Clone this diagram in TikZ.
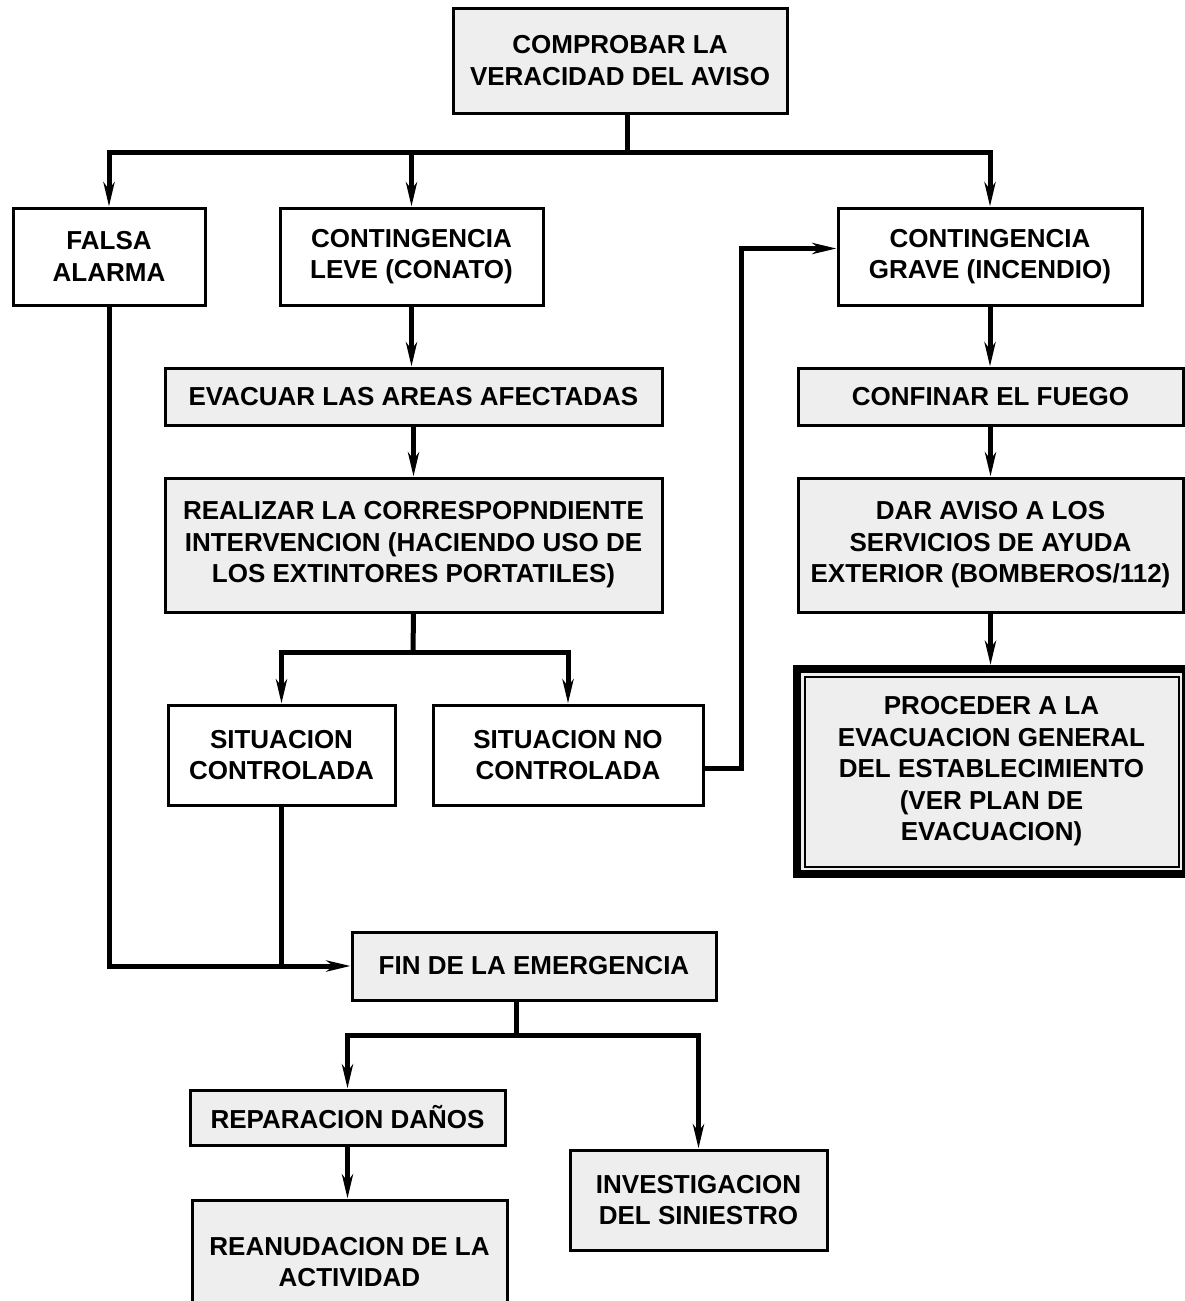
\documentclass[tikz,border=0pt]{standalone}
\usepackage{fontspec}
\setmainfont{Liberation Sans}
\usepackage{xcolor}
\usetikzlibrary{calc,arrows.meta}
\definecolor{boxgrey}{HTML}{EEEEEE}
\newcommand{\boxfont}{\bfseries\fontsize{26}{31.5}\selectfont}
\tikzset{
  whitebox/.style={ % decision box, no fill
    draw, rectangle, line width=3pt, fill=white,
    align=center, inner sep=0pt, text=black, font=\boxfont
  },
  greybox/.style={ % action box
    whitebox, fill=boxgrey
  },
  finalbox/.style={ % last step: heavy frame with a thin inner frame
    greybox, line width=8pt,
    path picture = {
      \draw[black, line width=2pt]
      ([shift={(7.5pt,-7.5pt)}]path picture bounding box.north west) rectangle
      ([shift={(-7.5pt,7.5pt)}]path picture bounding box.south east);
    }
  },
  wire/.style={line width=5pt},
  link/.style={wire, -{Stealth[length=24pt,width=11pt,inset=7pt]}}
}
\begin{document}
\begin{tikzpicture}[x=1pt, y=-1pt]
  \useasboundingbox (0,0) rectangle (1184,1301);

  % top of the tree
  \node[greybox, minimum width=334pt, minimum height=105pt] (aviso) at (620,60.5)
    {COMPROBAR LA\\VERACIDAD DEL AVISO};
  \node[whitebox, minimum width=192pt, minimum height=97pt] (falsa) at (109,256.5)
    {FALSA\\ALARMA};
  \node[whitebox, minimum width=263pt, minimum height=97pt] (leve) at (411.5,256.5)
    {CONTINGENCIA\\LEVE (CONATO)};
  \node[whitebox, minimum width=304pt, minimum height=97pt] (grave) at (990,256.5)
    {CONTINGENCIA\\GRAVE (INCENDIO)};

  % minor contingency
  \node[greybox, minimum width=497pt, minimum height=57pt] (evacuar) at (413.5,396.5)
    {EVACUAR LAS AREAS AFECTADAS};
  \node[greybox, minimum width=497pt, minimum height=134pt] (realizar) at (413.5,545)
    {REALIZAR LA CORRESPOPNDIENTE\\INTERVENCION (HACIENDO USO DE\\LOS EXTINTORES PORTATILES)};
  \node[whitebox, minimum width=227pt, minimum height=100pt] (sit_ctrl) at (281.5,755)
    {SITUACION\\CONTROLADA};
  \node[whitebox, minimum width=270pt, minimum height=100pt] (sit_noctrl) at (568,755)
    {SITUACION NO\\CONTROLADA};

  % major contingency
  \node[greybox, minimum width=385pt, minimum height=57pt] (confinar) at (990.5,396.5)
    {CONFINAR EL FUEGO};
  \node[greybox, minimum width=385pt, minimum height=134pt] (dar_aviso) at (990.5,545)
    {DAR AVISO A LOS\\SERVICIOS DE AYUDA\\EXTERIOR (BOMBEROS/112)};
  \node[finalbox, minimum width=389pt, minimum height=205pt] (proceder) at (991.5,771.5)
    {PROCEDER A LA\\EVACUACION GENERAL\\DEL ESTABLECIMIENTO\\(VER PLAN DE\\EVACUACION)};

  % end of the emergency
  \node[greybox, minimum width=364pt, minimum height=68pt] (fin) at (534,966)
    {FIN DE LA EMERGENCIA};
  \node[greybox, minimum width=315pt, minimum height=55pt] (reparacion) at (347.5,1117.5)
    {REPARACION DAÑOS};
  \node[greybox, minimum width=257pt, minimum height=100pt] (investigacion) at (698.5,1200)
    {INVESTIGACION\\DEL SINIESTRO};
  \node[greybox, minimum width=315pt, minimum height=124pt] (reanudacion) at (349.5,1262)
    {REANUDACION DE LA\\ACTIVIDAD};

  \coordinate (top_split) at (627,152);
  \coordinate (mid_split) at (413,652);
  \coordinate (low_split) at (516,1035);
  \coordinate (loop_up) at (741,768);

  \draw[wire] (aviso.south -| top_split) -- (top_split);
  \draw[link] (top_split) -| (falsa.north);
  \draw[link] (top_split) -| (leve.north);
  \draw[link] (top_split) -| (grave.north);

  \draw[link] (leve.south) -- (leve.south |- evacuar.north);
  \draw[link] (evacuar.south) -- (evacuar.south |- realizar.north);
  \draw[wire] (realizar.south) -- (mid_split);
  \draw[link] (mid_split) -| (sit_ctrl.north);
  \draw[link] (mid_split) -| (sit_noctrl.north);
  \draw[link] (sit_noctrl.east |- loop_up) -- (loop_up) |- ([yshift=8pt]grave.west);

  \draw[link] (grave.south) -- (grave.south |- confinar.north);
  \draw[link] (confinar.south) -- (confinar.south |- dar_aviso.north);
  \draw[link] (dar_aviso.south) -- (dar_aviso.south |- proceder.north);

  \draw[link] (falsa.south) |- (fin.west);
  \draw[wire] (sit_ctrl.south) -- (sit_ctrl.south |- fin.west);

  \draw[wire] (fin.south -| low_split) -- (low_split);
  \draw[link] (low_split) -| (reparacion.north);
  \draw[link] (low_split) -| (investigacion.north);
  \draw[link] (reparacion.south) -- (reparacion.south |- reanudacion.north);
\end{tikzpicture}
\end{document}
